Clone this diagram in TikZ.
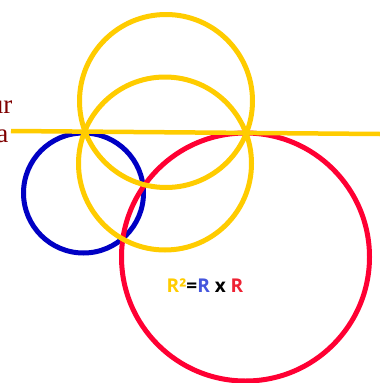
\documentclass[tikz,border=0pt]{standalone}
\usepackage{fontspec}
\newfontfamily\labelfont{Open Sans}
\newfontfamily\seriffont{Liberation Serif}
\definecolor{ylw}{HTML}{FFCC00}
\definecolor{blu}{HTML}{0000C4}
\definecolor{rd}{HTML}{FF0033}
\definecolor{txtblue}{HTML}{4455DD}
\definecolor{txtred}{HTML}{EE2233}
\definecolor{maroon}{HTML}{7F0000}
\begin{document}
\begin{tikzpicture}[x=1pt,y=-1pt,
  ring/.style={line width=5pt},
  cut/.style={font=\seriffont\fontsize{27}{30}\selectfont, text=maroon, inner sep=0pt, anchor=base east}]
\useasboundingbox (0,0) rectangle (380,383);
\fill[white] (0,0) rectangle (380,383);
\node[cut] (t1) at (12.5,113) {ur};
\node[cut] (t2) at (8.5,142) {a};
\draw[ring, blu] (83.5,193) circle (60);
\draw[ring, rd] (245.5,257) circle (124);
\draw[ring, ylw] (166,101) circle (86.5);
\draw[ring, ylw] (165,163.5) circle (86.5);
\coordinate (l1) at (11,131);
\coordinate (l2) at (380,134);
\draw[line width=4.5pt, ylw] (l1) -- (l2);
\node[font=\labelfont\bfseries\fontsize{19}{22}\selectfont, inner sep=0pt] (eq) at (205,286)
  {\textcolor{ylw}{R²}\textcolor{black}{=}\textcolor{txtblue}{R} \textcolor{black}{x} \textcolor{txtred}{R}};
\end{tikzpicture}
\end{document}
